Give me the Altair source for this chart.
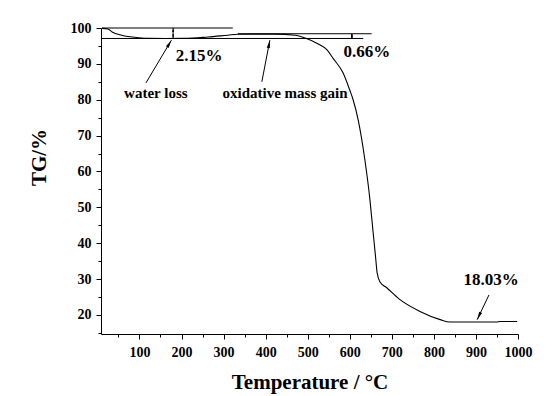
import altair as alt
import pandas as pd

# TG curve (temperature in °C, mass in %)
temps = [11, 25, 35, 58, 97, 120, 160, 208, 263, 310, 334, 380, 422, 470, 494, 524, 546, 560,
         584, 600, 608, 620, 636, 648, 655, 662, 665, 672, 688, 717, 767, 815, 838, 900, 950, 956, 998]
tg = [99.9, 99.7, 98.9, 98.0, 97.3, 97.1, 97.08, 97.1, 97.5, 98.0, 98.25, 98.3, 98.3, 98.0, 97.2, 95.6, 93.9, 91.6,
      87.5, 82.7, 80.0, 74.4, 63.2, 52.1, 43.7, 35.4, 31.8, 29.2, 27.6, 24.5, 21.0, 18.7, 18.03, 18.03, 18.03, 18.2, 18.2]

x_major = [100, 200, 300, 400, 500, 600, 700, 800, 900, 1000]
x_minor = [50, 150, 250, 350, 450, 550, 650, 750, 850, 950]
y_major = [20, 30, 40, 50, 60, 70, 80, 90, 100]
y_minor = [15, 25, 35, 45, 55, 65, 75, 85, 95]

# horizontal guide lines
guide_x1 = [11, 11, 334]
guide_x2 = [322, 632, 652]
guide_y = [100.0, 97.08, 98.4]

# annotation arrows
arrow_tail_t = [115.5, 391, 931]
arrow_tail_v = [84.7, 85.0, 25.6]
arrow_tip_t = [176, 410, 903]
arrow_tip_v = [96.6, 96.6, 18.7]
arrow_angle = [30.8, 10.9, 205.5]

# double-headed gap markers
gap_t = [180, 605]
gap_top = [100.0, 98.4]
gap_bottom = [97.08, 97.08]

# labels
label_text = ["2.15%", "0.66%", "18.03%", "water loss", "oxidative mass gain"]
label_t = [242, 641, 936, 139, 446]
label_v = [92.2, 93.3, 29.8, 81.9, 81.9]
label_size = [17, 17, 17, 15, 15]

FONT = "Liberation Serif"
xs = alt.Scale(domain=[8.6, 1000], nice=False, zero=False)
ys = alt.Scale(domain=[14.7, 100], nice=False, zero=False)

curve_df = pd.DataFrame({"T": temps, "TG": tg})
guide_df = pd.DataFrame({"x1": guide_x1, "x2": guide_x2, "y": guide_y})
arrow_df = pd.DataFrame({"t0": arrow_tail_t, "v0": arrow_tail_v, "t1": arrow_tip_t,
                         "v1": arrow_tip_v, "ang": arrow_angle})
gap_df = pd.DataFrame({"t": gap_t, "top": gap_top, "bot": gap_bottom})
gap_heads = pd.DataFrame({"t": gap_t + gap_t, "v": gap_top + gap_bottom,
                          "ang": [0] * len(gap_t) + [180] * len(gap_t)})
label_df = pd.DataFrame({"text": label_text, "t": label_t, "v": label_v, "size": label_size})

axis_common = dict(labelFont=FONT, labelFontSize=14, labelFontWeight="bold", labelColor="black",
                   tickColor="black", domainColor="black", grid=False, labelFlush=False,
                   labelOverlap=False, titleFont=FONT, titleFontWeight="bold", titleColor="black",
                   titleFontSize=21, format="d")

curve = alt.Chart(curve_df).mark_line(color="black", strokeWidth=1.1, interpolate="monotone").encode(
    x=alt.X("T:Q", scale=xs, axis=alt.Axis(values=x_major, tickSize=5, orient="bottom", labelPadding=6,
                                           title="Temperature / °C", titleBaseline="alphabetic",
                                           titleY=54, **axis_common)),
    y=alt.Y("TG:Q", scale=ys, axis=alt.Axis(values=y_major, tickSize=5, orient="left", labelPadding=5,
                                            title="TG/%", titleBaseline="alphabetic", titleX=-56,
                                            titleY=129, titleAngle=270, **axis_common)),
)

minor = alt.Chart(curve_df).mark_point(opacity=0).encode(
    x=alt.X("T:Q", scale=xs, axis=alt.Axis(values=x_minor, tickSize=3, orient="bottom", labels=False,
                                           domain=False, title="", tickColor="black", grid=False)),
    y=alt.Y("TG:Q", scale=ys, axis=alt.Axis(values=y_minor, tickSize=3, orient="left", labels=False,
                                            domain=False, title="", tickColor="black", grid=False)),
)

guides = alt.Chart(guide_df).mark_rule(color="black", strokeWidth=1).encode(
    x=alt.X("x1:Q", scale=xs, axis=None), x2="x2:Q", y=alt.Y("y:Q", scale=ys, axis=None))

arrows = alt.Chart(arrow_df).mark_rule(color="black", strokeWidth=1).encode(
    x=alt.X("t0:Q", scale=xs, axis=None), x2="t1:Q",
    y=alt.Y("v0:Q", scale=ys, axis=None), y2="v1:Q")

heads = alt.Chart(arrow_df).mark_point(shape="M0,0L0.4,2L-0.4,2Z", filled=True, color="black",
                                       size=64, opacity=1).encode(
    x=alt.X("t1:Q", scale=xs, axis=None), y=alt.Y("v1:Q", scale=ys, axis=None),
    angle=alt.Angle("ang:Q", scale=None))

gaps = alt.Chart(gap_df).mark_rule(color="black", strokeWidth=1).encode(
    x=alt.X("t:Q", scale=xs, axis=None), y=alt.Y("top:Q", scale=ys, axis=None), y2="bot:Q")

gap_h = alt.Chart(gap_heads).mark_point(shape="M0,0L0.5,2L-0.5,2Z", filled=True, color="black",
                                        size=16, opacity=1).encode(
    x=alt.X("t:Q", scale=xs, axis=None), y=alt.Y("v:Q", scale=ys, axis=None),
    angle=alt.Angle("ang:Q", scale=None))

labels = alt.Chart(label_df).mark_text(font=FONT, fontWeight="bold", color="black",
                                       align="center", baseline="middle").encode(
    x=alt.X("t:Q", scale=xs, axis=None), y=alt.Y("v:Q", scale=ys, axis=None),
    text="text:N", size=alt.Size("size:Q", scale=None, legend=None))

chart = alt.layer(curve, minor, guides, arrows, heads, gaps, gap_h, labels).resolve_axis(
    x="independent", y="independent"
).properties(
    width=417, height=306,
    autosize=alt.AutoSizeParams(type="none"),
    padding={"left": 93, "top": 20, "right": 26, "bottom": 60},
    background="white",
).configure_view(stroke=None)

chart.save("out.html", embed_options={"renderer": "svg", "actions": False})
